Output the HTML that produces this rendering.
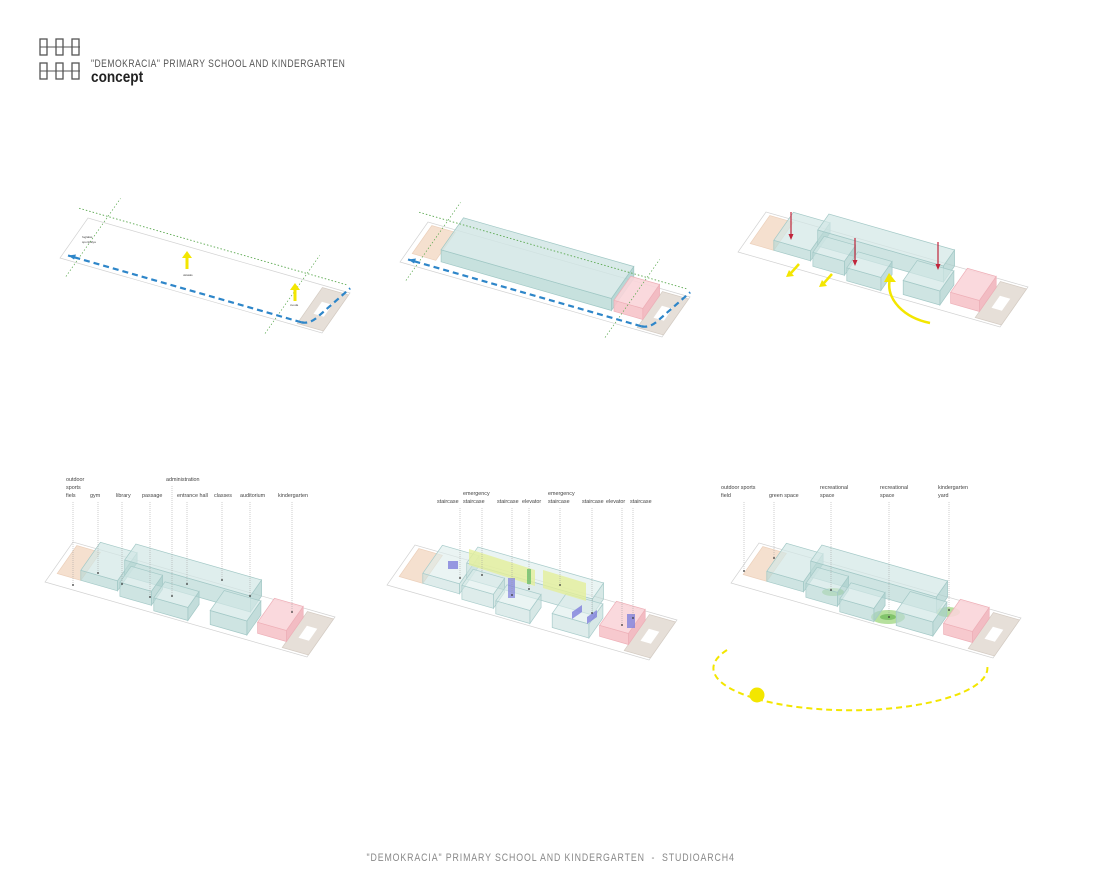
<!DOCTYPE html>
<html><head><meta charset="utf-8">
<style>
html,body{margin:0;padding:0;background:#fff;}
body{width:1100px;height:888px;overflow:hidden;position:relative;font-family:"Liberation Sans",sans-serif;}
.t1{position:absolute;left:91px;top:58px;font-size:11px;color:#555;letter-spacing:0.6px;transform:scaleX(0.78);transform-origin:left;white-space:nowrap;}
.t2{position:absolute;left:91px;top:69px;font-size:16px;color:#222;font-weight:bold;transform:scaleX(0.85);transform-origin:left;}
.ft{position:absolute;left:0;width:1100px;top:852px;text-align:center;font-size:11px;color:#888;letter-spacing:1.1px;transform:scaleX(0.8);transform-origin:553px 0;white-space:nowrap;}
svg{position:absolute;left:0;top:0;}
</style></head><body>
<div class="t1">"DEMOKRACIA" PRIMARY SCHOOL AND KINDERGARTEN</div>
<div class="t2">concept</div>
<div class="ft">"DEMOKRACIA" PRIMARY SCHOOL AND KINDERGARTEN &nbsp;- &nbsp;STUDIOARCH4</div>
<svg id="s" width="1100" height="888" xmlns="http://www.w3.org/2000/svg">
<g fill="#fff" stroke="#555" stroke-width="1.3">
<rect x="40" y="39" width="7" height="16"/><rect x="56" y="39" width="7" height="16"/><rect x="72" y="39" width="7" height="16"/>
<rect x="40" y="63" width="7" height="16"/><rect x="56" y="63" width="7" height="16"/><rect x="72" y="63" width="7" height="16"/>
</g>
<g stroke="#555" stroke-width="1"><line x1="40" y1="47" x2="80" y2="47"/><line x1="40" y1="71" x2="80" y2="71"/></g>
</svg>
<script>
var s=document.getElementById('s');
var out='';
function P(o,u,v,h){return [o[0]+u*262+v*28,o[1]+u*75-v*40-(h||0)];}
function poly(pts,fill,stroke,op,extra){out+='<polygon points="'+pts.map(function(p){return p[0].toFixed(1)+','+p[1].toFixed(1)}).join(' ')+'" fill="'+fill+'" stroke="'+(stroke||'none')+'" stroke-width="0.7" fill-opacity="'+(op||1)+'" '+(extra||'')+'/>';}
function flat(o,u0,u1,v0,v1,fill,stroke){poly([P(o,u0,v0),P(o,u1,v0),P(o,u1,v1),P(o,u0,v1)],fill,stroke);}
function box(o,u0,u1,v0,v1,h,c,op){
 c=c||['#d2e7e5','#b9d9d6','#a9cfcc','#a4c9c7'];op=op||0.7;
 poly([P(o,u0,v0,0),P(o,u1,v0,0),P(o,u1,v0,h),P(o,u0,v0,h)],c[1],c[3],op);
 poly([P(o,u1,v0,0),P(o,u1,v1,0),P(o,u1,v1,h),P(o,u1,v0,h)],c[2],c[3],op);
 poly([P(o,u0,v0,h),P(o,u1,v0,h),P(o,u1,v1,h),P(o,u0,v1,h)],c[0],c[3],op);
}
var PINK=['#f9d5d9','#f6c3c9','#f1b5bc','#eeb0b8'];
function line(a,b,st,w,dash,extra){out+='<line x1="'+a[0]+'" y1="'+a[1]+'" x2="'+b[0]+'" y2="'+b[1]+'" stroke="'+st+'" stroke-width="'+w+'" '+(dash?'stroke-dasharray="'+dash+'"':'')+' '+(extra||'')+'/>';}
function txt(x,y,t,sz){out+='<text x="'+x+'" y="'+y+'" font-size="'+(sz||5.5)+'" fill="#444" font-family="Liberation Sans,sans-serif">'+t+'</text>';}
function site(o){
 poly([P(o,0,0),P(o,1,0),P(o,1,1),P(o,0,1)],'#fff','#d2d2d2');
 flat(o,0.90,1,0.05,0.95,'#e6dfd8','#d5ccc3');
 flat(o,0.93,0.97,0.35,0.65,'#fff','none');
}
function field(o){flat(o,0.02,0.11,0.25,0.95,'#f5e0cf','#ecd0bb');}
function lines(o){
 line(P(o,-0.05,1.15),P(o,0.97,1.15),'#5aa84f',0.9,'1.5,2');
 line(P(o,0.06,-0.35),P(o,0.06,1.6),'#5aa84f',0.7,'1.5,2');
 line(P(o,0.82,-0.35),P(o,0.82,1.6),'#5aa84f',0.7,'1.5,2');
 var a=P(o,0.02,0.1),b=P(o,0.91,0.1),c=P(o,0.95,0.3),d=P(o,0.99,1.1);
 out+='<path d="M'+b[0]+','+b[1]+' L'+a[0]+','+a[1]+'" stroke="#2e86c9" stroke-width="2.2" stroke-dasharray="6,4" fill="none"/>';
 out+='<path d="M'+b[0]+','+b[1]+' Q'+(b[0]+8)+','+(b[1]+2)+' '+c[0]+','+c[1]+' L'+d[0]+','+d[1]+'" stroke="#2e86c9" stroke-width="2.2" stroke-dasharray="6,4" fill="none"/>';
 out+='<polygon points="'+a[0]+','+a[1]+' '+(a[0]+8)+','+(a[1]-1)+' '+(a[0]+6)+','+(a[1]+4)+'" fill="#2e86c9"/>';
}
function yarrowUp(x,y){out+='<rect x="'+(x-1.5)+'" y="'+(y-10)+'" width="3" height="12" fill="#f3e600"/><polygon points="'+(x-5)+','+(y-9)+' '+(x+5)+','+(y-9)+' '+x+','+(y-16)+'" fill="#f3e600"/>';}
function red(x,y){line([x,y-28],[x,y-4],'#c0243a',1.2);out+='<polygon points="'+(x-2.5)+','+(y-6)+' '+(x+2.5)+','+(y-6)+' '+x+','+y+'" fill="#c0243a"/>';}
function buildings(o,c,op){
 box(o,0.11,0.25,0.25,0.95,10,c,op);
 box(o,0.24,0.72,0.6,1.0,16,c,op);
 box(o,0.27,0.39,0.15,0.55,14,c,op);
 box(o,0.41,0.54,0.05,0.45,13,c,op);
 box(o,0.62,0.76,0.1,0.6,14,c,op);
}
var O=[[60,258],[400,262],[738,252],[45,582],[387,585],[731,583]];
site(O[0]);lines(O[0]);
yarrowUp(187,267);yarrowUp(295,299);
txt(82,238,'foglalás',3);txt(82,243,'sportpálya',3);txt(183,276,'oktatás',3);txt(290,306,'óvoda',3);
site(O[1]);field(O[1]);
box(O[1],0.13,0.78,0.25,1.05,12,['#cfe5e3','#b9d9d6','#a5cdca','#9fc7c4'],0.8);
box(O[1],0.79,0.9,0.25,0.85,11,PINK,0.9);
lines(O[1]);
site(O[2]);field(O[2]);buildings(O[2]);
box(O[2],0.79,0.9,0.2,0.8,11,PINK,0.9);
red(791,240);red(855,266);red(938,270);
out+='<path d="M930,323 C905,318 885,300 890,278" stroke="#f3e600" stroke-width="2.5" fill="none"/><polygon points="884,282 896,282 889,273" fill="#f3e600"/>';
out+='<line x1="799" y1="264" x2="791" y2="273" stroke="#f3e600" stroke-width="2.5"/><polygon points="786,277 794,276 789,270" fill="#f3e600"/>';
out+='<line x1="832" y1="274" x2="824" y2="283" stroke="#f3e600" stroke-width="2.5"/><polygon points="819,287 827,286 822,280" fill="#f3e600"/>';
site(O[3]);field(O[3]);buildings(O[3]);
box(O[3],0.79,0.9,0.2,0.8,11,PINK,0.9);
var L4=[[66,'outdoor|sports|fiels',73,585,497],[90,'gym',98,573,497],[116,'library',122,584,497],[142,'passage',150,597,497],[166,'administration',172,596,481],[177,'entrance hall',187,584,497],[214,'classes',222,580,497],[240,'auditorium',250,596,497],[278,'kindergarten',292,612,497]];
site(O[4]);field(O[4]);
buildings(O[4],['#dceceb','#c8e0de','#bcd8d6','#a9cccb'],0.6);
box(O[4],0.79,0.9,0.2,0.8,11,PINK,0.9);
poly([[469,549],[535,570],[535,586],[469,565]],'#e4ef9a','none',0.8);
poly([[543,570],[586,583],[586,601],[543,588]],'#e4ef9a','none',0.8);
out+='<rect x="448" y="561" width="10" height="8" fill="#7f7fdc" opacity="0.8"/>';
out+='<rect x="508" y="578" width="7" height="20" fill="#7f7fdc" opacity="0.7"/>';
out+='<rect x="527" y="569" width="4" height="15" fill="#6cc06c" opacity="0.8"/>';
out+='<polygon points="572,612 582,605 582,612 572,619" fill="#7f7fdc" opacity="0.8"/><polygon points="587,617 597,610 597,617 587,624" fill="#7f7fdc" opacity="0.8"/>';
out+='<rect x="627" y="614" width="8" height="14" fill="#7f7fdc" opacity="0.8"/>';
var L5=[[437,'staircase',460,578,503],[463,'emergency|staircase',482,575,503],[497,'staircase',512,595,503],[522,'elevator',529,589,503],[548,'emergency|staircase',560,585,503],[582,'staircase',592,613,503],[606,'elevator',622,625,503],[630,'staircase',633,618,503]];
site(O[5]);field(O[5]);
out+='<ellipse cx="833" cy="592" rx="11" ry="4" fill="#8fcf6a" opacity="0.7"/>';
out+='<ellipse cx="888" cy="617" rx="17" ry="7" fill="#8fcf6a" opacity="0.65"/><ellipse cx="888" cy="617" rx="8" ry="3" fill="#5fb04a" opacity="0.6"/>';
out+='<ellipse cx="948" cy="612" rx="12" ry="5" fill="#8fcf6a" opacity="0.65"/>';
buildings(O[5]);
box(O[5],0.79,0.9,0.2,0.8,11,PINK,0.9);
out+='<path d="M727,650 A137,42 0 1 0 987,665" stroke="#f3e600" stroke-width="2" stroke-dasharray="6,4" fill="none"/>';
out+='<circle cx="757" cy="695" r="7.5" fill="#f3e600"/>';
var L6=[[721,'outdoor sports|field',744,571,497],[769,'green space',774,558,497],[820,'recreational|space',831,590,497],[880,'recreational|space',889,617,497],[938,'kindergarten|yard',949,610,497]];
function labels(Ls){Ls.forEach(function(l){var base=l[4];var parts=l[1].split('|');var y0=base-(parts.length-1)*8;parts.forEach(function(p,i){txt(l[0],y0+i*8,p,5.4);});line([l[2],base+5],[l[2],l[3]],'#999',0.5,'1,1');out+='<circle cx="'+l[2]+'" cy="'+l[3]+'" r="0.9" fill="#333"/>';});}
labels(L4);labels(L5);labels(L6);
s.insertAdjacentHTML('beforeend',out);
</script>
</body></html>
